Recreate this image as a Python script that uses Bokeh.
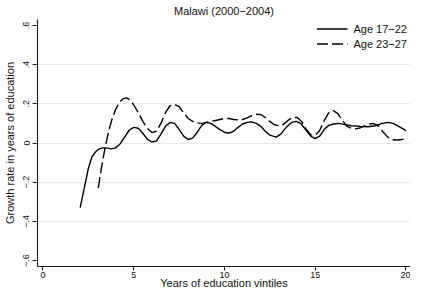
from bokeh.plotting import figure
from bokeh.models import FixedTicker, Range1d
from bokeh.embed import file_html
from bokeh.resources import INLINE

# ---- data ----
x_1722 = [2.05, 2.3, 2.5, 2.7, 2.9, 3.1, 3.3, 3.5, 3.75, 4.0, 4.25, 4.5, 4.75, 5.0,
          5.25, 5.5, 5.75, 6.0, 6.25, 6.5, 6.75, 7.0, 7.25, 7.5, 7.75, 8.0, 8.25,
          8.5, 8.75, 9.0, 9.25, 9.5, 9.75, 10.0, 10.25, 10.5, 10.75, 11.0, 11.25,
          11.5, 11.75, 12.0, 12.25, 12.5, 12.85, 13.1, 13.4, 13.7, 13.95, 14.2,
          14.5, 14.75, 15.0, 15.25, 15.5, 15.75, 16.0, 16.3, 16.6, 17.0, 17.5,
          17.9, 18.3, 18.7, 19.0, 19.3, 19.6, 20.0]
y_1722 = [-0.33, -0.22, -0.13, -0.07, -0.045, -0.03, -0.025, -0.025, -0.03, -0.025,
          -0.005, 0.03, 0.065, 0.08, 0.075, 0.05, 0.02, 0.005, 0.01, 0.045, 0.085,
          0.105, 0.1, 0.07, 0.035, 0.018, 0.025, 0.055, 0.09, 0.105, 0.1, 0.085,
          0.068, 0.055, 0.05, 0.06, 0.08, 0.097, 0.105, 0.108, 0.1, 0.085, 0.06,
          0.04, 0.03, 0.045, 0.08, 0.105, 0.11, 0.1, 0.065, 0.035, 0.022, 0.035,
          0.07, 0.09, 0.097, 0.1, 0.095, 0.088, 0.085, 0.083, 0.088, 0.1, 0.105,
          0.1, 0.085, 0.063]

x_2327 = [3.05, 3.2, 3.35, 3.5, 3.65, 3.8, 4.0, 4.2, 4.4, 4.6, 4.8, 5.0, 5.25, 5.5,
          5.75, 6.0, 6.25, 6.5, 6.75, 7.0, 7.25, 7.5, 7.75, 8.0, 8.25, 8.5, 8.75,
          9.0, 9.25, 9.5, 9.75, 10.0, 10.25, 10.5, 10.75, 11.0, 11.25, 11.5, 11.75,
          12.0, 12.25, 12.5, 12.75, 13.0, 13.25, 13.5, 13.75, 14.0, 14.25, 14.5,
          14.75, 15.0, 15.25, 15.5, 15.75, 16.0, 16.25, 16.5, 16.75, 17.0, 17.25,
          17.5, 17.75, 18.0, 18.2, 18.5, 18.75, 19.0, 19.25, 19.5, 19.75, 20.0]
y_2327 = [-0.23, -0.14, -0.06, 0.01, 0.07, 0.12, 0.17, 0.205, 0.225, 0.23, 0.22,
          0.195, 0.155, 0.11, 0.075, 0.053, 0.06, 0.1, 0.155, 0.19, 0.197, 0.185,
          0.155, 0.125, 0.11, 0.103, 0.1, 0.105, 0.11, 0.115, 0.12, 0.125, 0.125,
          0.12, 0.118, 0.12, 0.128, 0.14, 0.147, 0.145, 0.13, 0.11, 0.093, 0.088,
          0.095, 0.115, 0.13, 0.13, 0.11, 0.07, 0.042, 0.04, 0.065, 0.115, 0.155,
          0.165, 0.15, 0.115, 0.085, 0.075, 0.072, 0.078, 0.088, 0.097, 0.1, 0.085,
          0.055, 0.03, 0.017, 0.015, 0.018, 0.022]

x_ticks = [0, 5, 10, 15, 20]
y_ticks = [-0.6, -0.4, -0.2, 0.0, 0.2, 0.4, 0.6]
y_tick_labels = ["\u2212.6", "\u2212.4", "\u2212.2", "0", ".2", ".4", ".6"]
y_grid = [-0.4, -0.2, 0.0, 0.2, 0.4]

FONT = "Liberation Sans"

p = figure(width=410, height=291, output_backend="svg", toolbar_location=None,
           x_range=Range1d(-0.3, 20.25), y_range=Range1d(-0.63, 0.63),
           title="Malawi (2000\u22122004)",
           x_axis_label="Years of education vintiles",
           y_axis_label="Growth rate in years of education",
           min_border_left=0, min_border_right=0, min_border_top=0, min_border_bottom=0)
p.outline_line_color = None
p.background_fill_color = "white"

p.title.align = "center"
p.title.text_font = FONT
p.title.text_font_size = "11px"
p.title.text_font_style = "normal"
p.title.text_color = "#111111"
p.title.standoff = 5

p.line(x_1722, y_1722, line_color="black", line_width=1.4, legend_label="Age 17\u221222")
p.line(x_2327, y_2327, line_color="black", line_width=1.4, line_dash="11 4",
       legend_label="Age 23\u221227")

p.xaxis.ticker = FixedTicker(ticks=x_ticks)
p.yaxis.ticker = FixedTicker(ticks=y_ticks)
p.yaxis.major_label_overrides = {t: s for t, s in zip(y_ticks, y_tick_labels)}
p.yaxis.major_label_orientation = "vertical"

for ax in (p.xaxis, p.yaxis):
    ax.axis_line_color = "#222222"
    ax.axis_line_width = 1.2
    ax.major_tick_line_color = "#222222"
    ax.major_tick_in = 0
    ax.minor_tick_line_color = None
    ax.major_label_text_font = FONT
    ax.major_label_text_font_size = "9px"
    ax.major_label_text_color = "#111111"
    ax.axis_label_text_font = FONT
    ax.axis_label_text_font_size = "11px"
    ax.axis_label_text_font_style = "normal"
    ax.axis_label_text_color = "#111111"

p.yaxis.major_tick_out = 5
p.yaxis.major_label_standoff = 3
p.yaxis.axis_label_standoff = 5
p.xaxis.major_tick_out = 4
p.xaxis.major_label_standoff = 1
p.xaxis.axis_label_standoff = -4

p.xgrid.visible = False
p.ygrid.ticker = FixedTicker(ticks=y_grid)
p.ygrid.grid_line_color = "#e3eced"
p.ygrid.grid_line_width = 1

lg = p.legend[0]
lg.location = "top_right"
lg.border_line_color = None
lg.background_fill_alpha = 1.0
lg.label_text_font = FONT
lg.label_text_font_size = "11px"
lg.label_text_color = "#111111"
lg.glyph_width = 31
lg.glyph_height = 13
lg.label_height = 13
lg.label_standoff = 6
lg.spacing = 2
lg.padding = 2
lg.margin = 3

open("out.html", "w").write(file_html(p, INLINE))
